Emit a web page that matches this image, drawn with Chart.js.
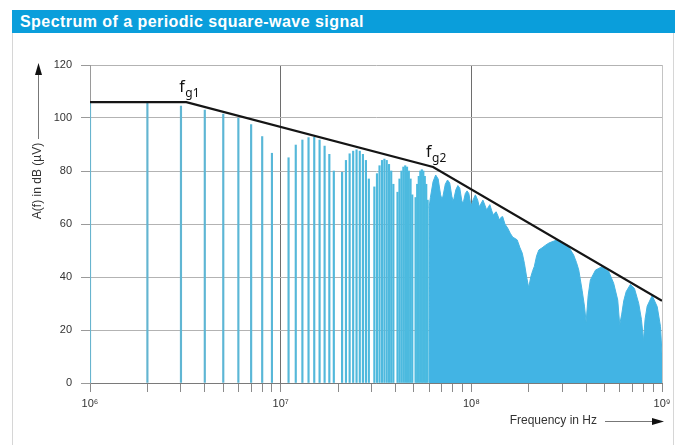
<!DOCTYPE html>
<html>
<head>
<meta charset="utf-8">
<script src="https://cdn.jsdelivr.net/npm/chart.js@4.4.1/dist/chart.umd.min.js"></script>
<style>
  body { margin: 0; background: #fff; width: 678px; height: 445px; overflow: hidden; position: relative; }
  #frame { position: absolute; left: 12px; top: 10px; width: 662px; height: 440px;
           border-left: 1px solid #d6d6d6; border-right: 1px solid #d6d6d6; box-sizing: border-box; }
  #titlebar { position: absolute; left: 12px; top: 10px; width: 663px; height: 23px; background: #0a9edb;
              color: #fff; font: bold 16px "Liberation Sans", Arial, sans-serif; line-height: 23px;
              letter-spacing: 0.45px; padding-left: 8px; box-sizing: border-box; }
  #spectrum { position: absolute; left: 0; top: 0; }
</style>
</head>
<body>
<div id="frame"></div>
<div id="titlebar">Spectrum of a periodic square-wave signal</div>
<canvas id="spectrum" width="678" height="445"></canvas>
<script>
// single harmonics (MHz) and their levels in dB(µV)
const harmonicMHz = [1, 2, 3, 4, 5, 6, 7, 8, 9,
  11, 12, 13, 14, 15, 16, 17, 18, 19,
  21, 22, 23, 24, 25, 26, 27, 28, 29,
  31, 32, 33, 34, 35, 36, 37, 38, 39,
  41, 42, 43, 44, 45, 46, 47, 48, 49,
  51, 52, 53, 54, 55, 56, 57, 58, 59];
const harmonicDb = [106, 105.5, 104.5, 103, 101.5, 100, 97.5, 93, 86.7,
  85, 89.8, 91.7, 92.6, 92.7, 91.7, 89.4, 86.3, 80,
  79.5, 84, 86.5, 87.5, 88, 87.5, 86.3, 84, 77,
  74, 79, 82, 84, 84.5, 84, 82.5, 80, 75,
  72, 77, 80, 81.5, 82, 81.5, 80, 77, 71,
  70, 75, 78, 80, 80.5, 80, 78, 75, 69];

// above 60 MHz the lines merge into one band, read as its upper outline
const denseMHz = [60, 61, 63, 65, 67, 69, 70, 71, 73, 75, 77, 79,
  80, 81, 83, 85, 87, 89, 90, 91, 93, 95, 97, 99,
  100, 102, 105, 108, 110, 112, 115, 118, 120, 122, 125, 128, 130, 132, 135, 138,
  140, 143, 146, 150, 155, 160, 165, 170, 174, 180, 185, 190, 195, 200,
  205, 210, 214, 220, 226, 235, 245, 255, 265, 282, 295, 305, 324, 344, 356, 366, 381, 392, 400,
  410, 421, 448, 485, 526, 558, 586, 600,
  615, 630, 649, 683, 717, 755, 780, 800,
  815, 836, 888, 944, 982, 1000];
const denseDb = [66, 70, 76, 78.5, 77, 71, 69.5, 70.5, 75, 76.6, 75.5, 70.5,
  69, 69.5, 73, 74.5, 73.5, 69, 68, 68.5, 71.5, 72.5, 71.5, 68,
  67, 69, 71, 69, 66.5, 67.5, 69, 67, 65.5, 66, 67.3, 65, 63.5, 64, 64.6, 63,
  61.5, 62.5, 62.8, 60, 58.5, 56.5, 55, 54.5, 54, 51, 49, 45, 40, 36,
  40, 42.5, 44, 48, 50.2, 51, 52, 52.8, 53.3, 54, 53.5, 52.7, 51.4, 48.3, 45.5, 42.6, 35, 29, 23,
  33, 38.9, 42.6, 43.9, 42, 37.6, 31.3, 22,
  26, 31, 34.5, 37.2, 35.7, 30, 24, 16,
  24, 29, 33, 28.8, 21.3, 11];

// asymptotic envelope with the two corner frequencies
const envelopeMHz = [1, 3.2, 63, 1000];
const envelopeDb = [106, 106, 81.5, 31];
const cornerLabels = ['g1', 'g2'];

const decadeHz = [1e6, 1e7, 1e8, 1e9];
const decadeLabels = ['10⁶', '10⁷', '10⁸', '10⁹'];

const tickFont = "'Liberation Sans', Arial, sans-serif";

function lineColor(ctx) {
  const f = ctx.raw ? ctx.raw.x : 1e6;
  const t = Math.min(1, Math.log10(f / 1e6) / Math.log10(60));
  const r = Math.round(104 - 30 * t), g = Math.round(180 + 6 * t), b = Math.round(206 + 18 * t);
  return 'rgb(' + r + ',' + g + ',' + b + ')';
}

// every 1-2-..-9 step gets a tick mark, only decades get a label
const axisTicks = [];
decadeHz.forEach((d, i) => {
  if (i === decadeHz.length - 1) { axisTicks.push(d); return; }
  for (let m = 1; m < 10; m++) axisTicks.push(m * d);
});

const arrowsAndNames = {
  id: 'arrowsAndNames',
  afterDraw(chart) {
    const c = chart.ctx;
    const xs = chart.scales.x, ys = chart.scales.y;
    c.save();

    // y axis name with arrow
    c.strokeStyle = '#777'; c.lineWidth = 1;
    c.beginPath(); c.moveTo(38.5, 139); c.lineTo(38.5, 72); c.stroke();
    c.fillStyle = '#111';
    c.beginPath(); c.moveTo(38.5, 63); c.lineTo(35, 75); c.lineTo(42, 75); c.closePath(); c.fill();
    c.save();
    c.translate(38, 181); c.rotate(-Math.PI / 2);
    c.fillStyle = '#333'; c.font = '12px ' + tickFont;
    c.textAlign = 'center'; c.textBaseline = 'middle';
    c.fillText('A(f) in dB (µV)', 0, 0);
    c.restore();

    // x axis name with arrow
    c.fillStyle = '#333'; c.font = '12px ' + tickFont;
    c.textAlign = 'right'; c.textBaseline = 'middle';
    c.fillText('Frequency in Hz', 597, 421);
    c.strokeStyle = '#777';
    c.beginPath(); c.moveTo(605, 421.5); c.lineTo(654, 421.5); c.stroke();
    c.fillStyle = '#111';
    c.beginPath(); c.moveTo(664, 421.5); c.lineTo(652, 418); c.lineTo(652, 425); c.closePath(); c.fill();

    // corner frequency names
    cornerLabels.forEach((name, i) => {
      const px = xs.getPixelForValue(envelopeMHz[i + 1] * 1e6);
      const py = ys.getPixelForValue(envelopeDb[i + 1]);
      c.fillStyle = '#111'; c.textAlign = 'left'; c.textBaseline = 'alphabetic';
      c.font = '16px "Noto Sans", "Open Sans", sans-serif';
      c.fillText('f', px - 7, py - 10);
      c.font = '12px "Noto Sans", "Open Sans", sans-serif';
      c.fillText(name, px - 1, py - 5);
    });
    c.restore();
  }
};

new Chart(document.getElementById('spectrum'), {
  type: 'bar',
  data: {
    datasets: [
      {
        type: 'line',
        data: envelopeMHz.map((f, i) => ({ x: f * 1e6, y: envelopeDb[i] })),
        borderColor: '#151515',
        borderWidth: 2.2,
        pointRadius: 0,
        fill: false,
        order: 0
      },
      {
        type: 'line',
        data: denseMHz.map((f, i) => ({ x: f * 1e6, y: denseDb[i] })),
        borderColor: 'rgb(70,180,226)',
        backgroundColor: 'rgb(66,180,228)',
        borderWidth: 1,
        pointRadius: 0,
        fill: 'origin',
        order: 2
      },
      {
        type: 'bar',
        data: harmonicMHz.map((f, i) => ({ x: f * 1e6, y: harmonicDb[i] })),
        backgroundColor: lineColor,
        barThickness: 1.5,
        grouped: false,
        order: 1
      }
    ]
  },
  options: {
    responsive: false,
    animation: false,
    layout: { padding: { left: 0, top: 65, right: 16, bottom: 22 } },
    plugins: { legend: { display: false }, tooltip: { enabled: false } },
    scales: {
      x: {
        type: 'logarithmic',
        min: 1e6,
        max: 1e9,
        offset: false,
        z: 1,
        afterBuildTicks: (scale) => { scale.ticks = axisTicks.map(v => ({ value: v })); },
        afterFit: (scale) => { scale.height = 40; },
        ticks: {
          autoSkip: false,
          maxRotation: 0,
          padding: 5,
          color: '#333',
          font: { family: tickFont, size: 11 },
          callback: (value) => {
            const i = decadeHz.indexOf(value);
            return i >= 0 ? decadeLabels[i] : '';
          }
        },
        grid: {
          offset: false,
          tickLength: 9,
          tickColor: '#8a8a8a',
          color: (ctx) => {
            const v = ctx.tick ? ctx.tick.value : 0;
            if (v === 1e9) return '#c4c4c4';
            return decadeHz.includes(v) ? '#6e6e6e' : 'rgba(0,0,0,0)';
          }
        },
        border: { color: '#7a7a7a' }
      },
      y: {
        min: 0,
        max: 120,
        z: 1,
        afterFit: (scale) => { scale.width = 90; },
        ticks: {
          stepSize: 20,
          padding: 9,
          color: '#333',
          font: { family: tickFont, size: 11 }
        },
        grid: { color: '#b3b3b3', tickLength: 9, tickColor: '#9a9a9a' },
        border: { color: '#9a9a9a' }
      }
    }
  },
  plugins: [arrowsAndNames]
});
</script>
</body>
</html>
